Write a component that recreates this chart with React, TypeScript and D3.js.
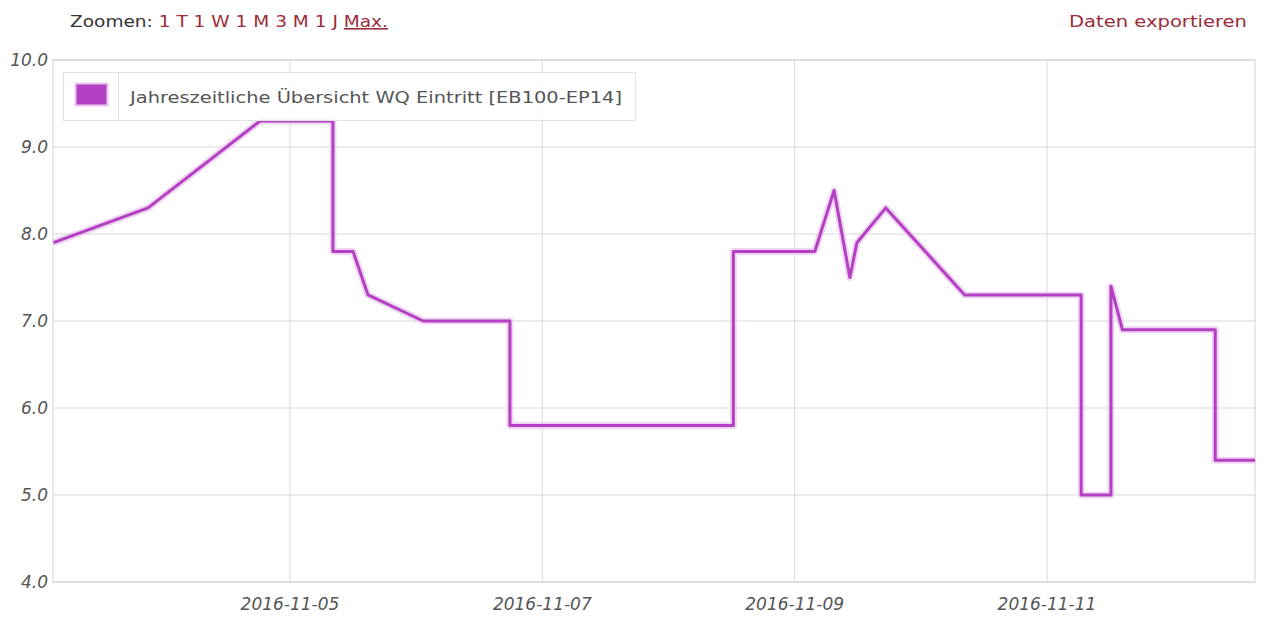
import React from 'react'
import * as d3 from 'd3'

const times = [
  '2016-11-03T03:00', '2016-11-03T21:00', '2016-11-04T18:20', '2016-11-05T08:10',
  '2016-11-05T08:10', '2016-11-05T12:00', '2016-11-05T14:50', '2016-11-06T01:20',
  '2016-11-06T17:50', '2016-11-06T17:50', '2016-11-08T12:20', '2016-11-08T12:20',
  '2016-11-09T03:50', '2016-11-09T07:30', '2016-11-09T10:30', '2016-11-09T11:50',
  '2016-11-09T17:20', '2016-11-10T08:20', '2016-11-11T06:30', '2016-11-11T06:30',
  '2016-11-11T12:10', '2016-11-11T12:10', '2016-11-11T14:20', '2016-11-12T08:00',
  '2016-11-12T08:00', '2016-11-12T15:35'
]
const values = [
  7.9, 8.3, 9.3, 9.3,
  7.8, 7.8, 7.3, 7.0,
  7.0, 5.8, 5.8, 7.8,
  7.8, 8.5, 7.5, 7.9,
  8.3, 7.3, 7.3, 5.0,
  5.0, 7.4, 6.9, 6.9,
  5.4, 5.4
]
const xDomain = ['2016-11-03T02:55', '2016-11-12T15:34']
const xTicks = ['2016-11-05T00:00', '2016-11-07T00:00', '2016-11-09T00:00', '2016-11-11T00:00']
const yTicks = [4, 5, 6, 7, 8, 9, 10]
const seriesName = 'Jahreszeitliche Übersicht WQ Eintritt [EB100-EP14]'
const zoomLinks = ['1 T', '1 W', '1 M', '3 M', '1 J']

const W = 1280
const H = 623
const margin = { top: 60, right: 25, bottom: 41, left: 53 }
const lineColor = '#b53fc3'
const linkColor = '#9b2c3a'
const font = "'DejaVu Sans', Verdana, sans-serif"

const parse = d3.timeParse('%Y-%m-%dT%H:%M')

export default function App() {
  const points = times.map((t, i) => ({ date: parse(t) as Date, value: values[i] }))

  const x = d3.scaleTime()
    .domain(xDomain.map(d => parse(d) as Date))
    .range([margin.left, W - margin.right])
  const y = d3.scaleLinear()
    .domain([4, 10])
    .range([H - margin.bottom, margin.top])

  const line = d3.line<{ date: Date; value: number }>()
    .x(d => x(d.date))
    .y(d => y(d.value))

  const fmt = d3.timeFormat('%Y-%m-%d')
  const path = line(points) || ''

  return (
    <svg width={W} height={H} style={{ position: 'absolute', left: 0, top: 0, background: '#fff' }}>
      {/* header */}
      <text x={70} y={27} fontFamily={font} fontSize={16} fill="#333"
        textLength={318} lengthAdjust="spacingAndGlyphs">
        Zoomen:
        {zoomLinks.map(z => (
          <tspan key={z} fill={linkColor}>{' ' + z}</tspan>
        ))}
        <tspan fill={linkColor}> </tspan>
        <tspan fill={linkColor} textDecoration="underline">Max.</tspan>
      </text>
      <text x={1069} y={27} fontFamily={font} fontSize={16} fill={linkColor}
        textLength={178} lengthAdjust="spacingAndGlyphs">
        Daten exportieren
      </text>

      {/* grid */}
      {yTicks.map(t => (
        <line key={'gy' + t} x1={margin.left} x2={W - margin.right} y1={y(t)} y2={y(t)}
          stroke="#d9d9d9" strokeWidth={1} />
      ))}
      {xTicks.map(t => {
        const xx = x(parse(t) as Date)
        return <line key={'gx' + t} x1={xx} x2={xx} y1={margin.top} y2={H - margin.bottom}
          stroke="#d9d9d9" strokeWidth={1} />
      })}
      <rect x={margin.left} y={margin.top} width={W - margin.left - margin.right}
        height={H - margin.top - margin.bottom} fill="none" stroke="#d0d0d0" strokeWidth={1} />

      {/* y labels */}
      {yTicks.map(t => (
        <text key={'ly' + t} x={48} y={y(t)} dy="0.35em" textAnchor="end" fontFamily={font}
          fontStyle="italic" fontSize={17} fill="#555">{d3.format('.1f')(t)}</text>
      ))}
      {/* x labels */}
      {xTicks.map(t => {
        const d = parse(t) as Date
        return (
          <text key={'lx' + t} x={x(d)} y={610} textAnchor="middle" fontFamily={font}
            fontStyle="italic" fontSize={17} fill="#555">{fmt(d)}</text>
        )
      })}

      {/* series */}
      <path d={path} fill="none" stroke="#e7c3ec" strokeWidth={7} strokeLinejoin="round" opacity={0.7} />
      <path d={path} fill="none" stroke={lineColor} strokeWidth={3} strokeLinejoin="round" />

      {/* legend */}
      <rect x={63.5} y={72.5} width={572} height={48} fill="#fff" fillOpacity={0.9} stroke="#e2e2e2" />
      <line x1={118.5} x2={118.5} y1={72.5} y2={120.5} stroke="#e2e2e2" />
      <rect x={75.5} y={83.5} width={32} height={22} fill={lineColor} stroke="#ecc6f0" strokeWidth={2} />
      <text x={130} y={97} dy="0.35em" fontFamily={font} fontSize={16} fill="#555"
        textLength={492} lengthAdjust="spacingAndGlyphs">{seriesName}</text>
    </svg>
  )
}
